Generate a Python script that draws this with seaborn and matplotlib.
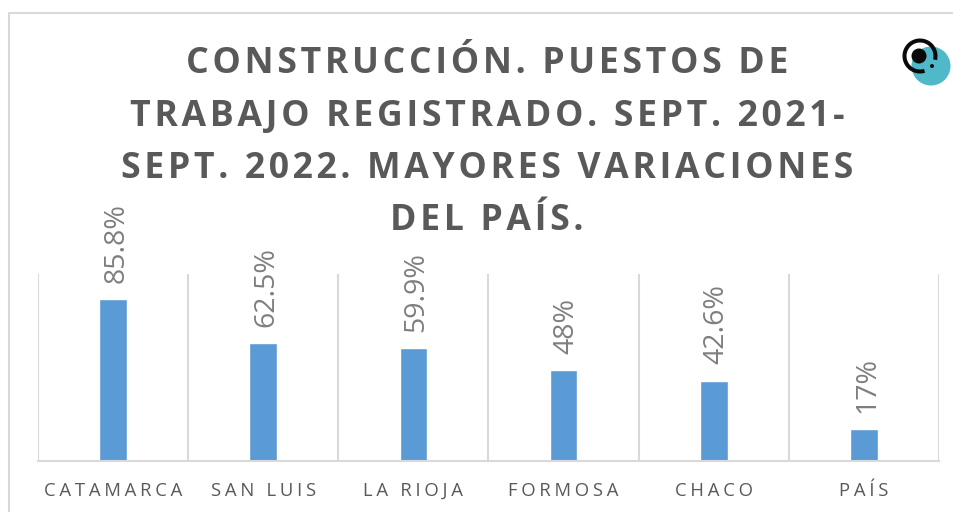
import numpy as np
import pandas as pd
import matplotlib
matplotlib.use("Agg")
import matplotlib.pyplot as plt
from matplotlib.patches import Arc, Circle
import seaborn as sns

provincias = ["CATAMARCA", "SAN LUIS", "LA RIOJA", "FORMOSA", "CHACO", "PAÍS"]
variacion = [85.8, 62.5, 59.9, 48, 42.6, 17]
etiquetas = ["85.8%", "62.5%", "59.9%", "48%", "42.6%", "17%"]
titulo = ["CONSTRUCCIÓN. PUESTOS DE", "TRABAJO REGISTRADO. SEPT. 2021-",
          "SEPT. 2022. MAYORES VARIACIONES", "DEL PAÍS."]


def espaciar(texto, n=1):
    # no letter spacing in matplotlib, so hair spaces between the letters
    return ("\u200a" * n).join(texto)


sns.set_theme(style="white")
plt.rcParams["font.family"] = ["Open Sans", "DejaVu Sans"]

fig = plt.figure(figsize=(9.54, 5.12), dpi=100)
ax = fig.add_axes([38 / 954, 51 / 512, 901 / 954, 187 / 512])

df = pd.DataFrame({"provincia": provincias, "variacion": variacion})
sns.barplot(data=df, x="provincia", y="variacion", color="#5b9bd5", saturation=1,
            width=0.185, ax=ax)
rotulos = ax.bar_label(ax.containers[0], labels=etiquetas, rotation=90, padding=11.7,
                       fontsize=20.5, color="#7f7f7f")
for r in rotulos:
    r.xyann = (2.2, r.xyann[1])

ax.set_xlim(-0.5, 5.5)
ax.set_ylim(0, 99)
ax.set_xlabel("")
ax.set_ylabel("")
ax.set_yticks([])
ax.set_xticks(range(len(provincias)))
ax.set_xticklabels([espaciar(p, 2) for p in provincias], fontsize=13.3, color="#595959",
                   va="baseline")
ax.tick_params(axis="x", which="major", length=0, pad=25)
ax.set_xticks(np.arange(-0.5, 6), minor=True)
ax.tick_params(axis="x", which="minor", length=0)
ax.grid(which="minor", axis="x", color="#d9d9d9", linewidth=1.5)
ax.set_axisbelow(True)
sns.despine(ax=ax, left=True)
ax.spines["bottom"].set_color("#d9d9d9")
ax.spines["bottom"].set_linewidth(1.5)

# overlay in pixel coordinates for the frame and the logo
over = fig.add_axes([0, 0, 1, 1], zorder=5)
over.set_xlim(0, 954)
over.set_ylim(512, 0)
over.axis("off")
over.patch.set_alpha(0)
over.plot([9, 9, 954], [512, 13, 13], color="#d9d9d9", linewidth=1.5)

for y, linea in zip([64, 117, 169, 221], titulo):
    over.text(487, y, espaciar(linea), ha="center", va="center", fontsize=25.7,
              fontweight="bold", color="#595959")

over.add_patch(Circle((931, 66), 19.5, color="#4fb8c9", linewidth=0))
over.add_patch(Arc((920, 56), 31, 31, theta1=73, theta2=374, color="#0a0a0a", linewidth=2.9))
over.add_patch(Circle((919, 56), 7.5, color="#0a0a0a", linewidth=0))
over.add_patch(Circle((932, 66), 2, color="#0a0a0a", linewidth=0))

fig.savefig("out.png", dpi=100)
